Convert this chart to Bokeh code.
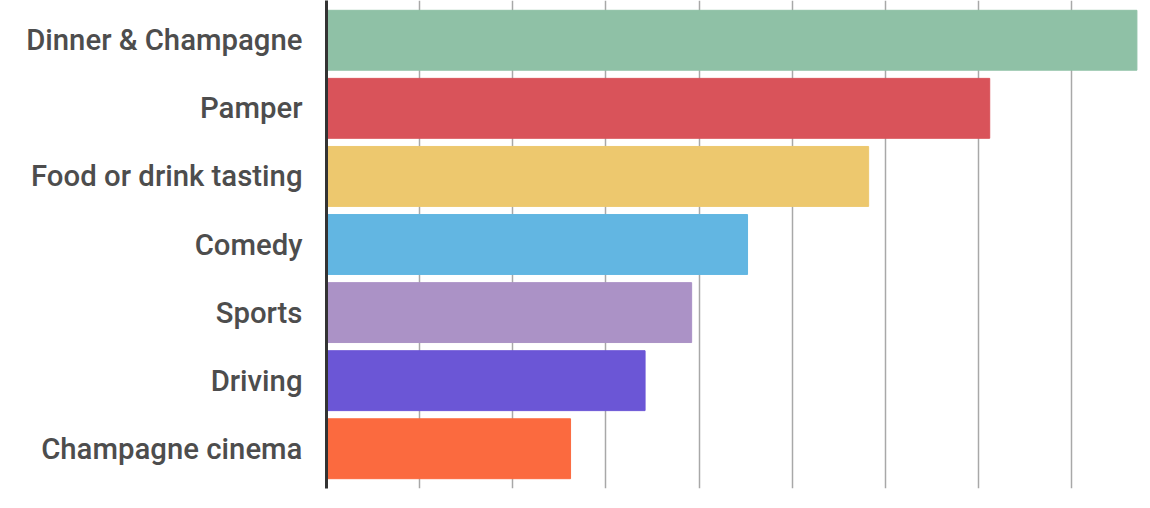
from bokeh.plotting import figure
from bokeh.models import FactorRange, Range1d, SingleIntervalTicker, ColumnDataSource
from bokeh.embed import file_html
from bokeh.resources import INLINE

categories = ["Dinner & Champagne", "Pamper", "Food or drink tasting", "Comedy",
              "Sports", "Driving", "Champagne cinema"]
values = [43.5, 35.6, 29.1, 22.6, 19.6, 17.1, 13.1]
colors = ["#8fc1a6", "#d9535a", "#edc86e", "#62b6e2", "#ab92c6", "#6b56d6", "#fb6a3f"]

src = ColumnDataSource(dict(cat=categories, val=values, color=colors))

p = figure(width=1142, height=490, output_backend="svg", toolbar_location=None,
           y_range=FactorRange(*categories[::-1], range_padding=0.024),
           x_range=Range1d(0, 43.8),
           min_border_left=326, min_border_right=0, min_border_top=0, min_border_bottom=2)

p.hbar(y="cat", right="val", left=0, height=0.88, color="color", source=src)

p.outline_line_color = None
p.xaxis.visible = False
p.xgrid.ticker = SingleIntervalTicker(interval=5)
p.xgrid.grid_line_color = "#a8a8a8"
p.xgrid.grid_line_width = 1.5
p.ygrid.grid_line_color = None

ax = p.yaxis[0]
ax.axis_line_color = "#333333"
ax.axis_line_width = 3
ax.major_tick_line_color = None
ax.minor_tick_line_color = None
ax.major_tick_out = 0
ax.major_tick_in = 0
ax.major_label_standoff = 24
ax.major_label_text_font = "Roboto Medium, Roboto"
ax.major_label_text_font_size = "29.3px"
ax.major_label_text_font_style = "normal"
ax.major_label_text_color = "#4d4d4d"

open("out.html", "w").write(file_html(p, INLINE))
